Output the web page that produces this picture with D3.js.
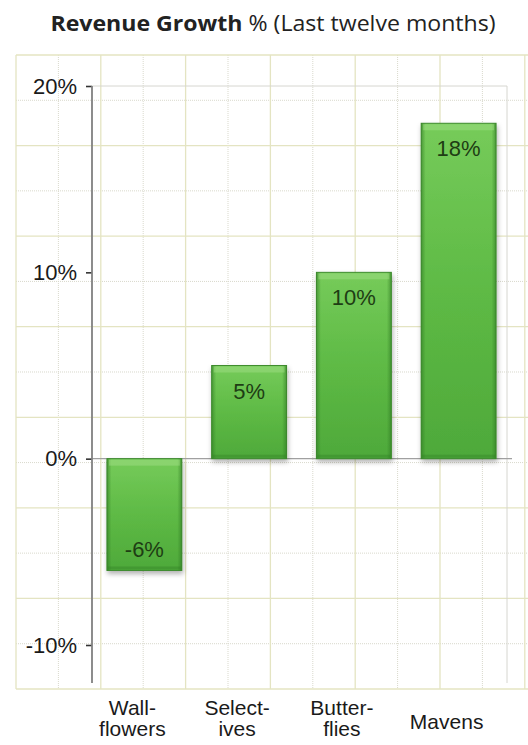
<!DOCTYPE html>
<html><head><meta charset="utf-8">
<script src="https://cdn.jsdelivr.net/npm/d3@7"></script>
<style>
html,body{margin:0;padding:0;background:#fff;}
svg{display:block;}
</style></head>
<body>
<svg id="chart" width="528" height="745"></svg>
<script>
const categories = ["Wallflowers", "Selectives", "Butterflies", "Mavens"];
const categoryLines = [["Wall-", "flowers"], ["Select-", "ives"], ["Butter-", "flies"], ["Mavens"]];
const growth = [-6, 5, 10, 18];
const valueLabels = ["-6%", "5%", "10%", "18%"];
const yTicks = [-10, 0, 10, 20];
const yTickLabels = ["-10%", "0%", "10%", "20%"];
const titleBold = "Revenue Growth";
const titleRest = " % (Last twelve months)";

const svg = d3.select("#chart");
const W = 528, H = 745;

// background graph paper
const gridLeft = 16, gridTop = 55, gridBottom = 689, cellW = 84.8, cellH = 90.57;
const grid = svg.append("g");
const vx = d3.range(0, 7).map(k => gridLeft + k * cellW);
const hy = d3.range(0, 8).map(k => gridTop + k * cellH);
grid.selectAll(".vd").data(vx).enter().append("line")
  .attr("x1", d => d + cellW / 2).attr("x2", d => d + cellW / 2)
  .attr("y1", gridTop).attr("y2", gridBottom)
  .attr("stroke", "#d9d9cc").attr("stroke-width", 1).attr("stroke-dasharray", "1,1");
grid.selectAll(".hd").data(hy.slice(0, 7)).enter().append("line")
  .attr("y1", d => d + cellH / 2).attr("y2", d => d + cellH / 2)
  .attr("x1", gridLeft).attr("x2", W)
  .attr("stroke", "#d9d9cc").attr("stroke-width", 1).attr("stroke-dasharray", "1,1");
grid.selectAll(".vs").data(vx).enter().append("line")
  .attr("x1", d => d).attr("x2", d => d)
  .attr("y1", gridTop).attr("y2", gridBottom)
  .attr("stroke", "#e4e4c2").attr("stroke-width", 1.3);
grid.selectAll(".hs").data(hy).enter().append("line")
  .attr("y1", d => d).attr("y2", d => d)
  .attr("x1", gridLeft).attr("x2", W)
  .attr("stroke", "#e4e4c2").attr("stroke-width", 1.3);

// scales
const axisX = 92;
const y = d3.scaleLinear().domain([-10, 20]).range([645, 86]);
const x = d3.scaleBand().domain(categories).range([axisX, axisX + 4 * 104.75])
  .paddingInner(0.285).paddingOuter(0.1425);

// plot frame
const frameRight = 507, frameBottom = 683;
svg.append("line").attr("x1", axisX).attr("x2", frameRight).attr("y1", y(20)).attr("y2", y(20))
  .attr("stroke", "#d6d6d0").attr("stroke-width", 1);
svg.append("line").attr("x1", frameRight).attr("x2", frameRight).attr("y1", y(20)).attr("y2", frameBottom)
  .attr("stroke", "#d6d6d0").attr("stroke-width", 1);

// defs
const defs = svg.append("defs");
const grad = defs.append("linearGradient").attr("id", "barGrad").attr("x1", 0).attr("y1", 0).attr("x2", 0).attr("y2", 1);
grad.append("stop").attr("offset", "0%").attr("stop-color", "#76cb5a");
grad.append("stop").attr("offset", "50%").attr("stop-color", "#5eba45");
grad.append("stop").attr("offset", "100%").attr("stop-color", "#4ea93a");
const side = defs.append("linearGradient").attr("id", "sideGrad").attr("x1", 0).attr("y1", 0).attr("x2", 1).attr("y2", 0);
side.append("stop").attr("offset", "0%").attr("stop-color", "#2f7a22").attr("stop-opacity", 0.6);
side.append("stop").attr("offset", "6%").attr("stop-color", "#2f7a22").attr("stop-opacity", 0);
side.append("stop").attr("offset", "94%").attr("stop-color", "#2f7a22").attr("stop-opacity", 0);
side.append("stop").attr("offset", "100%").attr("stop-color", "#2f7a22").attr("stop-opacity", 0.6);
const f = defs.append("filter").attr("id", "shadow").attr("x", "-20%").attr("y", "-20%").attr("width", "140%").attr("height", "140%");
f.append("feDropShadow").attr("dx", 1).attr("dy", 3).attr("stdDeviation", 2.5).attr("flood-color", "#000").attr("flood-opacity", 0.3);

// zero line
svg.append("line").attr("x1", axisX).attr("x2", 512).attr("y1", y(0)).attr("y2", y(0))
  .attr("stroke", "#a0a0a0").attr("stroke-width", 1.2);

// bars
const bars = svg.append("g").selectAll("g.bar").data(growth).enter().append("g").attr("class", "bar");
const bx = (d, i) => x(categories[i]);
const by = d => y(Math.max(0, d));
const bh = d => Math.abs(y(d) - y(0));
bars.append("rect").attr("x", bx).attr("y", by).attr("width", x.bandwidth()).attr("height", bh)
  .attr("fill", "url(#barGrad)").attr("stroke", "#3f8c2f").attr("stroke-width", 1).attr("filter", "url(#shadow)");
bars.append("rect").attr("x", bx).attr("y", by).attr("width", x.bandwidth()).attr("height", bh)
  .attr("fill", "url(#sideGrad)");
bars.append("rect").attr("x", (d, i) => bx(d, i) + 2).attr("y", d => by(d) + 1).attr("width", x.bandwidth() - 4).attr("height", 6)
  .attr("fill", "#a4e08a").attr("opacity", 0.45);
bars.append("rect").attr("x", (d, i) => bx(d, i) + 1).attr("y", d => by(d) + bh(d) - 4).attr("width", x.bandwidth() - 2).attr("height", 3)
  .attr("fill", "#2f7a22").attr("opacity", 0.35);

// value labels
bars.append("text")
  .attr("x", (d, i) => bx(d, i) + x.bandwidth() / 2)
  .attr("y", d => d >= 0 ? y(d) + 33 : y(d) - 13)
  .attr("text-anchor", "middle")
  .attr("font-family", "'Liberation Sans', Arial, sans-serif")
  .attr("font-size", 22).attr("fill", "#1e3d14")
  .text((d, i) => valueLabels[i]);

// y axis
const yAxis = d3.axisLeft(y).tickValues(yTicks).tickFormat((d, i) => yTickLabels[i]).tickSize(6).tickPadding(9);
const ga = svg.append("g").attr("transform", `translate(${axisX},0)`).call(yAxis);
ga.select(".domain").remove();
ga.selectAll(".tick line").attr("stroke", "#333").attr("stroke-width", 1.6);
ga.selectAll(".tick text").attr("font-family", "'Liberation Sans', Arial, sans-serif").attr("font-size", 22).attr("fill", "#1a1a1a");
svg.append("line").attr("x1", axisX).attr("x2", axisX).attr("y1", y(20)).attr("y2", frameBottom)
  .attr("stroke", "#808080").attr("stroke-width", 1.8);

// category labels
const cl = svg.append("g").selectAll("text").data(categories).enter().append("text")
  .attr("text-anchor", "middle")
  .attr("font-family", "'Liberation Sans', Arial, sans-serif")
  .attr("font-size", 21).attr("fill", "#1a1a1a")
  .attr("x", d => x(d) + x.bandwidth() / 2 - 12)
  .attr("y", (d, i) => categoryLines[i].length > 1 ? 715 : 729);
cl.each(function(d, i) {
  const t = d3.select(this);
  const cx = x(d) + x.bandwidth() / 2 - 12;
  categoryLines[i].forEach((ln, j) => {
    t.append("tspan").attr("x", cx).attr("dy", j === 0 ? 0 : 21).text(ln);
  });
});

// title
const title = svg.append("text").attr("text-anchor", "middle")
  .attr("transform", "translate(273,31) scale(1.1,1)")
  .attr("font-family", "'Open Sans', 'Noto Sans', sans-serif").attr("font-size", 21).attr("fill", "#222");
title.append("tspan").attr("font-weight", "bold").text(titleBold);
title.append("tspan").attr("font-weight", "normal").text(titleRest);
</script>
</body></html>
